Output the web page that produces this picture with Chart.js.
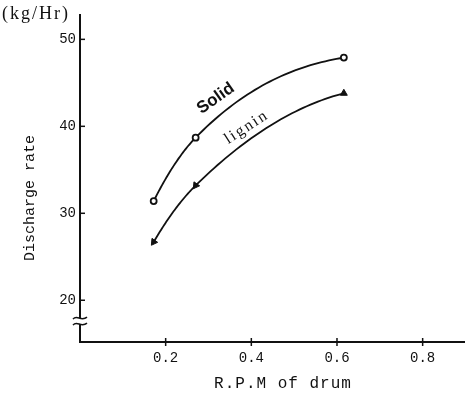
<!DOCTYPE html>
<html>
<head>
<meta charset="utf-8">
<script src="https://cdn.jsdelivr.net/npm/chart.js@4"></script>
<style>
  html, body { margin: 0; padding: 0; background: #fff; }
  #wrap { width: 470px; height: 403px; }
</style>
</head>
<body>
<div id="wrap"><canvas id="rpmChart" width="470" height="403"></canvas></div>
<script>
// drum speed vs. discharge rate
const rpm = [0.172, 0.27, 0.616];
const solidRate = [31.4, 38.7, 47.9];
const ligninRate = [26.7, 33.2, 43.8];
const xTicks = [0.2, 0.4, 0.6, 0.8];
const yTicks = [20, 30, 40, 50];
const breakAt = 17.6;

const serif = '"Liberation Serif", "DejaVu Serif", serif';
const mono = '"Liberation Mono", "DejaVu Sans Mono", monospace';

function pts(ys) {
    return rpm.map((x, i) => ({ x: x, y: ys[i] }));
}

// hermite tangents giving a smooth concave arc through the points
function tangents(xs, ys) {
    const n = xs.length, s = [], m = new Array(n);
    for (let i = 0; i < n - 1; i++) s.push((ys[i + 1] - ys[i]) / (xs[i + 1] - xs[i]));
    for (let i = 1; i < n - 1; i++) m[i] = (s[i - 1] + s[i]) / 2;
    m[0] = Math.max(2 * s[0] - m[1], s[0]);
    m[n - 1] = Math.max(2 * s[n - 2] - m[n - 2], 0.3 * s[n - 2]);
    return m;
}

const smoothCurves = {
    id: 'smoothCurves',
    beforeDatasetsDraw(chart) {
        const { ctx, scales: { x, y } } = chart;
        ctx.save();
        ctx.strokeStyle = '#111';
        ctx.lineWidth = 1.8;
        ctx.lineJoin = 'round';
        chart.data.datasets.forEach(ds => {
            const xs = ds.data.map(p => p.x), ys = ds.data.map(p => p.y);
            const m = tangents(xs, ys);
            ctx.beginPath();
            ctx.moveTo(x.getPixelForValue(xs[0]), y.getPixelForValue(ys[0]));
            for (let i = 0; i < xs.length - 1; i++) {
                const h = xs[i + 1] - xs[i];
                for (let k = 1; k <= 40; k++) {
                    const t = k / 40, t2 = t * t, t3 = t2 * t;
                    const v = (2 * t3 - 3 * t2 + 1) * ys[i] + (t3 - 2 * t2 + t) * h * m[i]
                            + (-2 * t3 + 3 * t2) * ys[i + 1] + (t3 - t2) * h * m[i + 1];
                    ctx.lineTo(x.getPixelForValue(xs[i] + t * h), y.getPixelForValue(v));
                }
            }
            ctx.stroke();
        });
        ctx.restore();
    }
};

const extras = {
    id: 'extras',
    afterDraw(chart) {
        const { ctx, scales: { x, y } } = chart;
        ctx.save();
        ctx.strokeStyle = '#111';
        ctx.lineWidth = 1.5;
        const line = (a, b, c, d) => { ctx.beginPath(); ctx.moveTo(a, b); ctx.lineTo(c, d); ctx.stroke(); };

        // inward ticks on y, crossing ticks on x
        yTicks.forEach(v => { const py = y.getPixelForValue(v); line(x.left, py, x.left + 5, py); });
        xTicks.forEach(v => { const px = x.getPixelForValue(v); line(px, y.bottom - 4, px, y.bottom + 4); });

        // axis break
        const by = y.getPixelForValue(breakAt);
        ctx.fillStyle = '#fff';
        ctx.fillRect(x.left - 3, by - 3, 6, 6);
        [-3, 3].forEach(off => {
            ctx.beginPath();
            ctx.moveTo(x.left - 7, by + off + 1);
            ctx.bezierCurveTo(x.left - 3, by + off - 4, x.left + 1, by + off + 4, x.left + 7, by + off - 1);
            ctx.stroke();
        });

        // texts
        ctx.fillStyle = '#111';
        ctx.textBaseline = 'middle';
        ctx.textAlign = 'left';
        ctx.font = '18px ' + serif;
        ctx.letterSpacing = '2px';
        ctx.fillText('(kg/Hr)', 2, 14);

        ctx.save();
        ctx.translate(30, 198);
        ctx.rotate(-Math.PI / 2);
        ctx.textAlign = 'center';
        ctx.font = '15px ' + mono;
        ctx.letterSpacing = '0px';
        ctx.fillText('Discharge rate', 0, 0);
        ctx.restore();

        ctx.textAlign = 'center';
        ctx.font = '16px ' + mono;
        ctx.letterSpacing = '1px';
        ctx.fillText('R.P.M of drum', 283, 384);

        // series names along the curves
        ctx.letterSpacing = '0px';
        ctx.save();
        ctx.translate(x.getPixelForValue(0.317), y.getPixelForValue(43.2));
        ctx.rotate(-35 * Math.PI / 180);
        ctx.font = 'bold 17px "Liberation Sans", Arial, sans-serif';
        ctx.fillText('Solid', 0, 0);
        ctx.restore();

        ctx.save();
        ctx.translate(x.getPixelForValue(0.389), y.getPixelForValue(39.9));
        ctx.rotate(-33 * Math.PI / 180);
        ctx.font = '16px ' + serif;
        ctx.letterSpacing = '2px';
        ctx.fillText('lignin', 0, 0);
        ctx.restore();

        ctx.restore();
    }
};

new Chart(document.getElementById('rpmChart').getContext('2d'), {
    type: 'line',
    data: {
        datasets: [
            { label: 'Solid', data: pts(solidRate), showLine: false, borderColor: '#111',
              pointStyle: 'circle', pointRadius: 3,
              pointBackgroundColor: '#fff', pointBorderColor: '#111', pointBorderWidth: 1.8 },
            { label: 'lignin', data: pts(ligninRate), showLine: false, borderColor: '#111',
              pointStyle: 'triangle', pointRadius: 4, pointRotation: [215, 215, 0],
              pointBackgroundColor: '#111', pointBorderColor: '#111', pointBorderWidth: 1 }
        ]
    },
    options: {
        responsive: false,
        animation: false,
        devicePixelRatio: 1,
        layout: { padding: { top: 15, right: 0, bottom: 0, left: 0 } },
        plugins: { legend: { display: false }, tooltip: { enabled: false } },
        scales: {
            x: {
                type: 'linear', min: 0, max: 0.897,
                afterBuildTicks: s => { s.ticks = xTicks.map(v => ({ value: v })); },
                afterFit: s => { s.height = 61; },
                grid: { display: false, tickLength: 0 },
                border: { display: true, color: '#111', width: 2 },
                ticks: { color: '#111', font: { family: mono, size: 14 }, padding: 8,
                         callback: v => v.toFixed(1) }
            },
            y: {
                type: 'linear', min: 15.2, max: 52.8,
                afterBuildTicks: s => { s.ticks = yTicks.map(v => ({ value: v })); },
                afterFit: s => { s.width = 80; },
                grid: { display: false, tickLength: 0 },
                border: { display: true, color: '#111', width: 2 },
                ticks: { color: '#111', font: { family: mono, size: 14 }, padding: 4 }
            }
        }
    },
    plugins: [smoothCurves, extras]
});
</script>
</body>
</html>
